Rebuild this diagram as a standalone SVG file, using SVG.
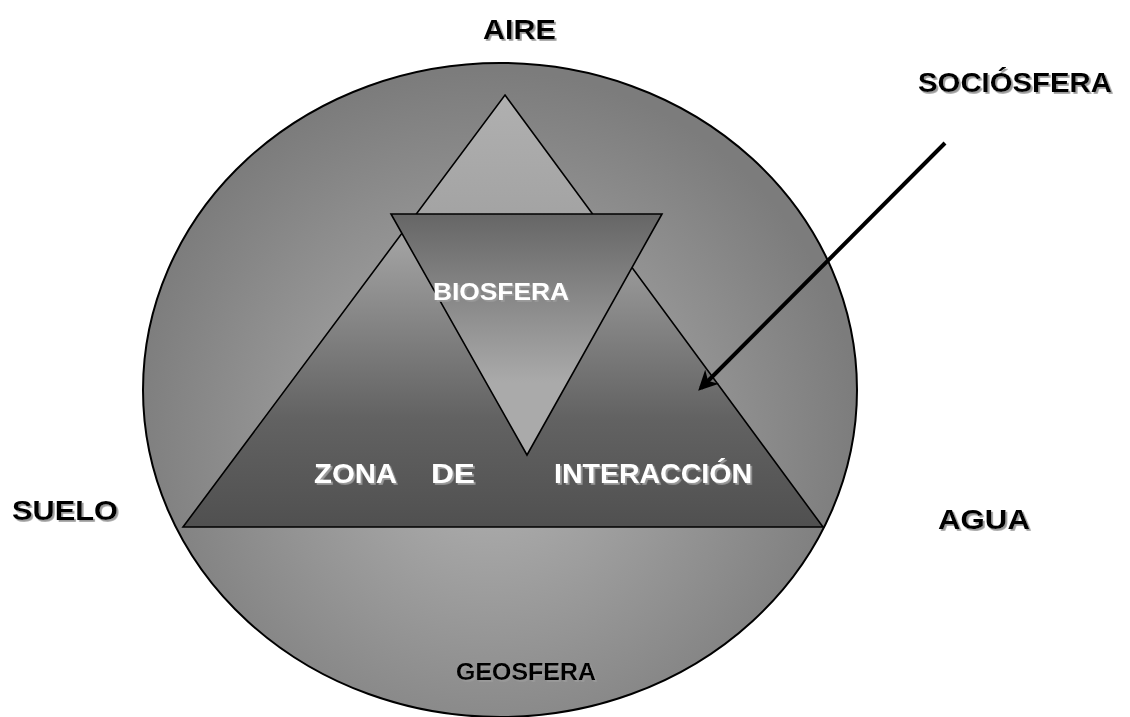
<svg xmlns="http://www.w3.org/2000/svg" width="1130" height="717" viewBox="0 0 1130 717">
<style>
.t{font-family:"Liberation Sans",Arial,sans-serif;font-weight:bold;filter:url(#sh)}
.k{fill:#000}
.w{fill:#fff}
.shape{stroke:#000;stroke-width:1.6;stroke-linejoin:miter}
</style>
<defs>
<filter id="sh" x="-10%" y="-30%" width="130%" height="170%">
<feDropShadow dx="1.8" dy="1.8" stdDeviation="0.4" flood-color="#9a9a9a" flood-opacity="1"/>
</filter>
<radialGradient id="gCircle" gradientUnits="userSpaceOnUse" cx="490" cy="440" r="370">
<stop offset="0" stop-color="#b4b4b4"/>
<stop offset="1" stop-color="#7c7c7c"/>
</radialGradient>
<linearGradient id="gTri" gradientUnits="userSpaceOnUse" x1="0" y1="95" x2="0" y2="527">
<stop offset="0" stop-color="#b0b0b0"/>
<stop offset="0.35" stop-color="#a0a0a0"/>
<stop offset="0.75" stop-color="#626262"/>
<stop offset="1" stop-color="#505050"/>
</linearGradient>
<linearGradient id="gInv" gradientUnits="userSpaceOnUse" x1="0" y1="214" x2="0" y2="455">
<stop offset="0" stop-color="#666666"/>
<stop offset="0.7" stop-color="#aaaaaa"/>
<stop offset="1" stop-color="#aaaaaa"/>
</linearGradient>
<marker id="ah" viewBox="0 0 10 10" refX="8" refY="5" markerWidth="5" markerHeight="5" orient="auto" markerUnits="strokeWidth">
<path d="M0,0 L10,5 L0,10 L3,5 Z" fill="#000"/>
</marker>
</defs>

<g id="geosfera">
<ellipse cx="500" cy="390" rx="357" ry="327" fill="url(#gCircle)" stroke="#000" stroke-width="2"/>
<text class="t k" x="456" y="680" font-size="23" textLength="140" lengthAdjust="spacingAndGlyphs">GEOSFERA</text>
</g>

<g id="zona-interaccion">
<polygon class="shape" points="505,95 823,527 183,527" fill="url(#gTri)"/>
<text class="t w" x="314" y="483" font-size="28" textLength="83" lengthAdjust="spacingAndGlyphs">ZONA</text>
<text class="t w" x="431" y="483" font-size="28" textLength="44" lengthAdjust="spacingAndGlyphs">DE</text>
<text class="t w" x="554" y="483" font-size="28" textLength="198" lengthAdjust="spacingAndGlyphs">INTERACCIÓN</text>
</g>

<g id="biosfera">
<polygon class="shape" points="391,214 662,214 527,455" fill="url(#gInv)"/>
<text class="t w" x="433" y="300" font-size="23" textLength="136" lengthAdjust="spacingAndGlyphs">BIOSFERA</text>
</g>

<g id="aire"><text class="t k" x="483" y="39" font-size="28" textLength="73" lengthAdjust="spacingAndGlyphs">AIRE</text></g>
<g id="sociosfera"><text class="t k" x="918" y="92" font-size="28" textLength="194" lengthAdjust="spacingAndGlyphs">SOCIÓSFERA</text></g>
<g id="suelo"><text class="t k" x="12" y="520" font-size="28" textLength="106" lengthAdjust="spacingAndGlyphs">SUELO</text></g>
<g id="agua"><text class="t k" x="938" y="529" font-size="28" textLength="92" lengthAdjust="spacingAndGlyphs">AGUA</text></g>

<g id="connectors">
<line x1="945" y1="143" x2="701" y2="388" stroke="#000" stroke-width="4" marker-end="url(#ah)"/>
</g>
</svg>
